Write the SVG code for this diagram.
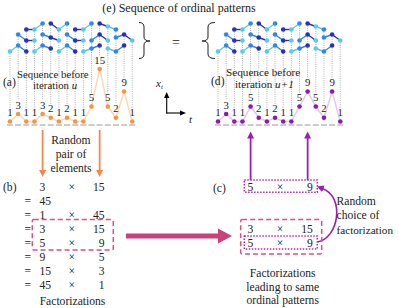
<svg xmlns="http://www.w3.org/2000/svg" xmlns:xlink="http://www.w3.org/1999/xlink" width="399" height="308" viewBox="0 0 399 308" font-family="'Liberation Serif', serif">
<style>
text{font-family:"Liberation Serif",serif;font-size:11.6px;fill:#222}
.m{text-anchor:middle}
.e{text-anchor:end}
.it{font-style:italic}
.sm{font-size:10.8px}
.c0{fill:#5cc8ec}.c1{fill:#3088e2}.c2{fill:#2a30b6}
.s0{stroke:#5cc8ec}.s1{stroke:#3088e2}.s2{stroke:#2a30b6}
.seg{stroke-width:1.4;fill:none}
.vd{stroke:#9a9a9a;stroke-width:0.8;stroke-dasharray:1 1.2;fill:none}
.gnd{stroke:#999;stroke-width:1.2;stroke-dasharray:6 2.15;fill:none}
.od{fill:#f7953f}
.pd{fill:#8c1bab}
.dash{fill:none;stroke:#d9508b;stroke-width:1.5;stroke-dasharray:5 3}
.dot{fill:none;stroke:#b82aa8;stroke-width:1.5;stroke-dasharray:1.5 1.5}
</style>
<defs>
<marker id="ao" markerUnits="userSpaceOnUse" markerWidth="8" markerHeight="8" refX="1" refY="3.5" orient="auto"><path d="M0,0 L7,3.5 L0,7 Z" fill="#f4874b"/></marker>
<marker id="ap" markerUnits="userSpaceOnUse" markerWidth="8" markerHeight="8" refX="1" refY="3.5" orient="auto"><path d="M0,0 L7,3.5 L0,7 Z" fill="#9c1fb4"/></marker>
<marker id="ak" markerUnits="userSpaceOnUse" markerWidth="7" markerHeight="6" refX="0" refY="2.6" orient="auto"><path d="M0,0 L6,2.6 L0,5.2 Z" fill="#000"/></marker>
<g id="pats">
<path class="seg s0" d="M10,51.5L18.15,45.5"/><path class="seg s1" d="M18.15,45.5L26.3,51.5"/>
<path class="seg s1" d="M18.15,34.5L26.3,40.5"/><path class="seg s2" d="M26.3,40.5L34.45,40.5"/>
<path class="seg s2" d="M26.3,29.5L34.45,29.5"/><path class="seg s0" d="M34.45,29.5L42.6,23.5"/>
<path class="seg s0" d="M34.45,51.5L42.6,45.5"/><path class="seg s1" d="M42.6,45.5L50.75,48.5"/>
<path class="seg s1" d="M42.6,34.5L50.75,37.5"/><path class="seg s2" d="M50.75,37.5L58.9,40.5"/>
<path class="seg s2" d="M50.75,23.5L58.9,29.5"/><path class="seg s0" d="M58.9,29.5L67.05,23.5"/>
<path class="seg s0" d="M58.9,51.5L67.05,45.5"/><path class="seg s1" d="M67.05,45.5L75.2,51.5"/>
<path class="seg s1" d="M67.05,34.5L75.2,40.5"/><path class="seg s2" d="M75.2,40.5L83.35,40.5"/>
<path class="seg s2" d="M75.2,29.5L83.35,29.5"/><path class="seg s0" d="M83.35,29.5L91.5,23.5"/>
<path class="seg s0" d="M83.35,51.5L91.5,48.5"/><path class="seg s1" d="M91.5,48.5L99.65,45.5"/>
<path class="seg s1" d="M91.5,40.5L99.65,34.5"/><path class="seg s2" d="M99.65,34.5L107.8,40.5"/>
<path class="seg s2" d="M99.65,23.5L107.8,26.5"/><path class="seg s0" d="M107.8,26.5L115.95,29.5"/>
<path class="seg s0" d="M107.8,48.5L115.95,51.5"/><path class="seg s1" d="M115.95,51.5L124.1,45.5"/>
<path class="seg s1" d="M115.95,37.5L124.1,34.5"/><path class="seg s2" d="M124.1,34.5L132.25,40.5"/>
<circle class="c0" cx="10" cy="51.5" r="2.3"/><circle class="c1" cx="18.15" cy="45.5" r="2.3"/><circle class="c2" cx="26.3" cy="51.5" r="2.3"/>
<circle class="c1" cx="18.15" cy="34.5" r="2.3"/><circle class="c2" cx="26.3" cy="40.5" r="2.3"/><circle class="c0" cx="34.45" cy="40.5" r="2.3"/>
<circle class="c2" cx="26.3" cy="29.5" r="2.3"/><circle class="c0" cx="34.45" cy="29.5" r="2.3"/><circle class="c1" cx="42.6" cy="23.5" r="2.3"/>
<circle class="c0" cx="34.45" cy="51.5" r="2.3"/><circle class="c1" cx="42.6" cy="45.5" r="2.3"/><circle class="c2" cx="50.75" cy="48.5" r="2.3"/>
<circle class="c1" cx="42.6" cy="34.5" r="2.3"/><circle class="c2" cx="50.75" cy="37.5" r="2.3"/><circle class="c0" cx="58.9" cy="40.5" r="2.3"/>
<circle class="c2" cx="50.75" cy="23.5" r="2.3"/><circle class="c0" cx="58.9" cy="29.5" r="2.3"/><circle class="c1" cx="67.05" cy="23.5" r="2.3"/>
<circle class="c0" cx="58.9" cy="51.5" r="2.3"/><circle class="c1" cx="67.05" cy="45.5" r="2.3"/><circle class="c2" cx="75.2" cy="51.5" r="2.3"/>
<circle class="c1" cx="67.05" cy="34.5" r="2.3"/><circle class="c2" cx="75.2" cy="40.5" r="2.3"/><circle class="c0" cx="83.35" cy="40.5" r="2.3"/>
<circle class="c2" cx="75.2" cy="29.5" r="2.3"/><circle class="c0" cx="83.35" cy="29.5" r="2.3"/><circle class="c1" cx="91.5" cy="23.5" r="2.3"/>
<circle class="c0" cx="83.35" cy="51.5" r="2.3"/><circle class="c1" cx="91.5" cy="48.5" r="2.3"/><circle class="c2" cx="99.65" cy="45.5" r="2.3"/>
<circle class="c1" cx="91.5" cy="40.5" r="2.3"/><circle class="c2" cx="99.65" cy="34.5" r="2.3"/><circle class="c0" cx="107.8" cy="40.5" r="2.3"/>
<circle class="c2" cx="99.65" cy="23.5" r="2.3"/><circle class="c0" cx="107.8" cy="26.5" r="2.3"/><circle class="c1" cx="115.95" cy="29.5" r="2.3"/>
<circle class="c0" cx="107.8" cy="48.5" r="2.3"/><circle class="c1" cx="115.95" cy="51.5" r="2.3"/><circle class="c2" cx="124.1" cy="45.5" r="2.3"/>
<circle class="c1" cx="115.95" cy="37.5" r="2.3"/><circle class="c2" cx="124.1" cy="34.5" r="2.3"/><circle class="c0" cx="132.25" cy="40.5" r="2.3"/>
</g>
</defs>

<text class="m" x="179" y="11.5" style="font-size:12px">(e) Sequence of ordinal patterns</text>

<g id="guides-left">
<path class="vd" d="M10,51.5V108M18.15,34.5V100.5M26.3,29.5V108M34.45,29.5V108M42.6,23.5V100.5M50.75,23.5V104.25M58.9,29.5V108M67.05,23.5V104.25M75.2,29.5V108M83.35,29.5V108M91.5,23.5V93M99.65,23.5V55.5M107.8,26.5V93M115.95,29.5V104.25M124.1,34.5V78M132.25,40.5V108"/>
</g>
<g id="guides-right">
<path class="vd" d="M218,51.5V108M226.15,34.5V100.5M234.3,29.5V108M242.45,29.5V108M250.6,23.5V93M258.75,23.5V104.25M266.9,29.5V108M275.05,23.5V104.25M283.2,29.5V108M291.35,29.5V108M299.5,23.5V93M307.65,23.5V78M315.8,26.5V93M323.95,29.5V104.25M332.1,34.5V78M340.25,40.5V108"/>
</g>

<g id="patterns-left"><use xlink:href="#pats" href="#pats"/></g>
<g id="patterns-right" transform="translate(208,0)"><use xlink:href="#pats" href="#pats"/></g>

<g id="braces" fill="none" stroke="#222" stroke-width="1">
<path d="M139,22.5 Q144,22.5 144,27 L144,37 Q144,41 150,41 Q144,41 144,45 L144,54 Q144,58.5 139,58.5"/>
<path d="M215,22.5 Q208,22.5 208,27 L208,37 Q208,41 202,41 Q208,41 208,45 L208,54 Q208,58.5 215,58.5"/>
</g>
<text class="m" x="176" y="46.5" style="font-size:14px">=</text>

<g id="seq-a">
<path class="gnd" d="M7,125H135.25"/>
<polyline fill="none" stroke="#fcd8bb" stroke-width="1.5" points="10,121.5 18.15,114 26.3,121.5 34.45,121.5 42.6,114 50.75,117.75 58.9,121.5 67.05,117.75 75.2,121.5 83.35,121.5 91.5,106.5 99.65,69 107.8,106.5 115.95,117.75 124.1,91.5 132.25,121.5"/>
<g class="od">
<circle cx="10" cy="121.5" r="2.3"/><circle cx="18.15" cy="114" r="2.3"/><circle cx="26.3" cy="121.5" r="2.3"/><circle cx="34.45" cy="121.5" r="2.3"/><circle cx="42.6" cy="114" r="2.3"/><circle cx="50.75" cy="117.75" r="2.3"/><circle cx="58.9" cy="121.5" r="2.3"/><circle cx="67.05" cy="117.75" r="2.3"/><circle cx="75.2" cy="121.5" r="2.3"/><circle cx="83.35" cy="121.5" r="2.3"/><circle cx="91.5" cy="106.5" r="2.3"/><circle cx="99.65" cy="69" r="2.3"/><circle cx="107.8" cy="106.5" r="2.3"/><circle cx="115.95" cy="117.75" r="2.3"/><circle cx="124.1" cy="91.5" r="2.3"/><circle cx="132.25" cy="121.5" r="2.3"/>
</g>
<g>
<text class="m sm" x="10" y="116">1</text><text class="m sm" x="18.15" y="108.5">3</text><text class="m sm" x="26.3" y="116">1</text><text class="m sm" x="34.45" y="116">1</text><text class="m sm" x="42.6" y="108.5">3</text><text class="m sm" x="50.75" y="112.25">2</text><text class="m sm" x="58.9" y="116">1</text><text class="m sm" x="67.05" y="112.25">2</text><text class="m sm" x="75.2" y="116">1</text><text class="m sm" x="83.35" y="116">1</text><text class="m sm" x="91.5" y="101">5</text><text class="m sm" x="99.65" y="63.5">15</text><text class="m sm" x="107.8" y="101">5</text><text class="m sm" x="115.95" y="112.25">2</text><text class="m sm" x="124.1" y="86">9</text><text class="m sm" x="132.25" y="116">1</text>
</g>
<text x="3" y="86">(a)</text>
<text class="sm" x="17" y="78">Sequence before</text>
<text class="sm" x="33" y="88.5">iteration <tspan class="it">u</tspan></text>
</g>

<g id="seq-d">
<path class="gnd" d="M215,125H343.25"/>
<polyline fill="none" stroke="#e2c9f0" stroke-width="1.5" points="218,121.5 226.15,114 234.3,121.5 242.45,121.5 250.6,106.5 258.75,117.75 266.9,121.5 275.05,117.75 283.2,121.5 291.35,121.5 299.5,106.5 307.65,91.5 315.8,106.5 323.95,117.75 332.1,91.5 340.25,121.5"/>
<g class="pd">
<circle cx="218" cy="121.5" r="2.3"/><circle cx="226.15" cy="114" r="2.3"/><circle cx="234.3" cy="121.5" r="2.3"/><circle cx="242.45" cy="121.5" r="2.3"/><circle cx="250.6" cy="106.5" r="2.3"/><circle cx="258.75" cy="117.75" r="2.3"/><circle cx="266.9" cy="121.5" r="2.3"/><circle cx="275.05" cy="117.75" r="2.3"/><circle cx="283.2" cy="121.5" r="2.3"/><circle cx="291.35" cy="121.5" r="2.3"/><circle cx="299.5" cy="106.5" r="2.3"/><circle cx="307.65" cy="91.5" r="2.3"/><circle cx="315.8" cy="106.5" r="2.3"/><circle cx="323.95" cy="117.75" r="2.3"/><circle cx="332.1" cy="91.5" r="2.3"/><circle cx="340.25" cy="121.5" r="2.3"/>
</g>
<g>
<text class="m sm" x="218" y="116">1</text><text class="m sm" x="226.15" y="108.5">3</text><text class="m sm" x="234.3" y="116">1</text><text class="m sm" x="242.45" y="116">1</text><text class="m sm" x="250.6" y="101">5</text><text class="m sm" x="258.75" y="112.25">2</text><text class="m sm" x="266.9" y="116">1</text><text class="m sm" x="275.05" y="112.25">2</text><text class="m sm" x="283.2" y="116">1</text><text class="m sm" x="291.35" y="116">1</text><text class="m sm" x="299.5" y="101">5</text><text class="m sm" x="307.65" y="86">9</text><text class="m sm" x="315.8" y="101">5</text><text class="m sm" x="323.95" y="112.25">2</text><text class="m sm" x="332.1" y="86">9</text><text class="m sm" x="340.25" y="116">1</text>
</g>
<text x="211" y="85">(d)</text>
<text x="226" y="76" style="font-size:11.2px">Sequence before</text>
<text x="235" y="88" style="font-size:11.2px">iteration <tspan class="it">u+1</tspan></text>
</g>

<g id="axes" stroke="#000" stroke-width="1.1" fill="none">
<path d="M166.7,113.5V98" marker-end="url(#ak)"/>
<path d="M166.2,113H180" marker-end="url(#ak)"/>
</g>
<text class="it" x="156" y="87" style="font-size:11px">x<tspan style="font-size:7px" dy="2.2">t</tspan></text>
<text class="it" x="189" y="123" style="font-size:11px">t</text>

<g id="connectors">
<path d="M42.6,130V171" stroke="#f4874b" stroke-width="1.8" fill="none" marker-end="url(#ao)"/>
<path d="M99.65,130V171" stroke="#f4874b" stroke-width="1.8" fill="none" marker-end="url(#ao)"/>
<path d="M250.6,180V137.5" stroke="#9c1fb4" stroke-width="1.8" fill="none" marker-end="url(#ap)"/>
<path d="M307.65,180V137.5" stroke="#9c1fb4" stroke-width="1.8" fill="none" marker-end="url(#ap)"/>
<path d="M317.5,242 C339,238 345,197 322.5,188.5" stroke="#9c1fb4" stroke-width="1.6" fill="none" marker-end="url(#ap)"/>
<path d="M126,236H219" stroke="#c9427b" stroke-width="5" fill="none"/>
<path d="M218,228.5L232,236L218,243.5Z" fill="#c9427b"/>
</g>

<g id="label-random-pair">
<text class="m" x="71" y="143.5">Random</text>
<text class="m" x="71" y="157.5">pair of</text>
<text class="m" x="71" y="171.5">elements</text>
</g>

<g id="factorizations-b">
<text x="3" y="191">(b)</text>
<text x="39.5" y="191">3</text><text class="m" x="71.7" y="191">×</text><text class="e" x="104.5" y="191">15</text>
<text class="m" x="27.7" y="205">=</text><text x="39.5" y="205">45</text>
<text class="m" x="27.7" y="219">=</text><text x="39.5" y="219">1</text><text class="m" x="71.7" y="219">×</text><text class="e" x="104.5" y="219">45</text>
<text class="m" x="27.7" y="233">=</text><text x="39.5" y="233">3</text><text class="m" x="71.7" y="233">×</text><text class="e" x="104.5" y="233">15</text>
<text class="m" x="27.7" y="247">=</text><text x="39.5" y="247">5</text><text class="m" x="71.7" y="247">×</text><text class="e" x="104.5" y="247">9</text>
<text class="m" x="27.7" y="261">=</text><text x="39.5" y="261">9</text><text class="m" x="71.7" y="261">×</text><text class="e" x="104.5" y="261">5</text>
<text class="m" x="27.7" y="275">=</text><text x="39.5" y="275">15</text><text class="m" x="71.7" y="275">×</text><text class="e" x="104.5" y="275">3</text>
<text class="m" x="27.7" y="289">=</text><text x="39.5" y="289">45</text><text class="m" x="71.7" y="289">×</text><text class="e" x="104.5" y="289">1</text>
<rect class="dash" x="32.3" y="219.5" width="81" height="30.5" rx="1.5"/>
<text class="m" x="72.5" y="305">Factorizations</text>
</g>

<g id="factorizations-c">
<text x="213" y="192">(c)</text>
<rect class="dot" x="244.3" y="180" width="73" height="12.3"/>
<text x="247.5" y="191">5</text><text class="m" x="280" y="191">×</text><text class="e" x="312.8" y="191">9</text>
<rect class="dash" x="240.7" y="219.5" width="81" height="34.5" rx="1.5"/>
<text x="247.5" y="232.7">3</text><text class="m" x="280" y="232.7">×</text><text class="e" x="312.8" y="232.7">15</text>
<rect class="dot" x="244.3" y="236" width="73" height="13"/>
<text x="247.5" y="247">5</text><text class="m" x="280" y="247">×</text><text class="e" x="312.8" y="247">9</text>
<text x="336.5" y="205">Random</text>
<text x="336.5" y="219">choice of</text>
<text x="336.5" y="233.5" style="font-size:11.2px">factorization</text>
<text class="m" x="282.7" y="277">Factorizations</text>
<text class="m" x="282.7" y="290.7">leading to same</text>
<text class="m" x="282.7" y="304.4">ordinal patterns</text>
</g>
</svg>
